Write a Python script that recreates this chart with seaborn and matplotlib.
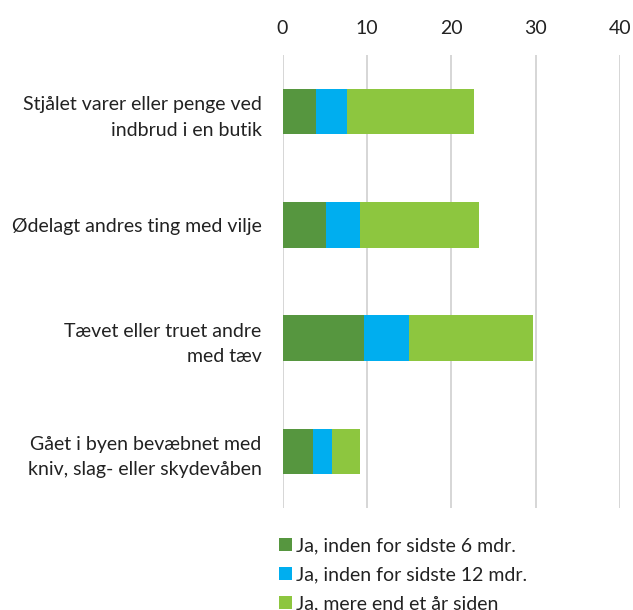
import matplotlib
matplotlib.use("Agg")
import matplotlib.pyplot as plt
from matplotlib.patches import Patch
import pandas as pd
import seaborn as sns

categories = [
    "Stjålet varer eller penge ved\nindbrud i en butik",
    "Ødelagt andres ting med vilje",
    "Tævet eller truet andre\nmed tæv",
    "Gået i byen bevæbnet med\nkniv, slag- eller skydevåben",
]
series = ["Ja, inden for sidste 6 mdr.", "Ja, inden for sidste 12 mdr.", "Ja, mere end et år siden"]
within_6 = [4.0, 5.1, 9.7, 3.6]
within_12 = [3.6, 4.1, 5.3, 2.3]
over_year = [15.1, 14.1, 14.7, 3.3]
colors = ["#56963F", "#00AEEF", "#8DC63F"]

df = pd.DataFrame({"cat": categories, "s1": within_6, "s2": within_12, "s3": over_year})
df["c1"] = df["s1"]
df["c2"] = df["s1"] + df["s2"]
df["c3"] = df["c2"] + df["s3"]

sns.set_style("white")
plt.rcParams["font.family"] = ["Lato", "DejaVu Sans"]

fig = plt.figure(figsize=(6.33, 6.10), dpi=100)
ax = fig.add_axes([282.5 / 633, 1 - 508 / 610, (620 - 282.5) / 633, (508 - 55) / 610])

# draw cumulative totals, largest first, so the segments stack
for col, color in zip(["c3", "c2", "c1"], colors[::-1]):
    sns.barplot(data=df, x=col, y="cat", color=color, width=0.4, ax=ax,
                saturation=1, edgecolor="none", linewidth=0, zorder=3)

ax.set_xlim(0, 40)
ax.set_xticks([0, 10, 20, 30, 40])
ax.xaxis.tick_top()
ax.grid(axis="x", color="#D0D0D0", linewidth=1.2, zorder=0)
ax.grid(axis="y", visible=False)
for s in ax.spines.values():
    s.set_visible(False)
ax.tick_params(axis="x", length=0, pad=13, labelsize=14, colors="#222222")
ax.tick_params(axis="y", length=0, pad=15, labelsize=14, colors="#222222")
for t in ax.get_yticklabels():
    t.set_horizontalalignment("right")
    t.set_multialignment("right")
    t.set_linespacing(1.6)
ax.set_xlabel("")
ax.set_ylabel("")

handles = [Patch(facecolor=c, edgecolor="none") for c in colors]
fig.legend(handles, series, loc="upper left", bbox_to_anchor=(279 / 633, 1 - 537 / 610),
           frameon=False, fontsize=14, handlelength=0.65, handleheight=0.65,
           handletextpad=0.25, labelspacing=0.62, borderpad=0, borderaxespad=0,
           labelcolor="#222222")

fig.savefig("out.png", dpi=100)
